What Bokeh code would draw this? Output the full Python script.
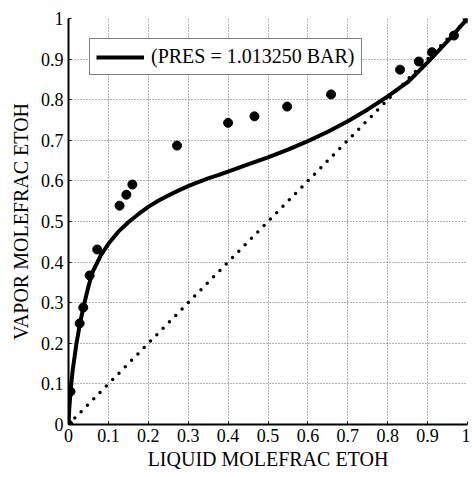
from bokeh.plotting import figure
from bokeh.models import FixedTicker, Legend, LegendItem, Range1d
from bokeh.embed import file_html
from bokeh.resources import INLINE

# experimental data (liquid x, vapor y)
x_exp = [0.0, 0.005, 0.028, 0.037, 0.053, 0.072, 0.128, 0.145, 0.160, 0.272,
         0.400, 0.466, 0.548, 0.658, 0.831, 0.878, 0.911, 0.966, 1.0]
y_exp = [0.0, 0.081, 0.249, 0.288, 0.367, 0.431, 0.539, 0.566, 0.591, 0.687,
         0.743, 0.759, 0.783, 0.813, 0.874, 0.894, 0.917, 0.958, 1.0]

# model curve
x_curve = [0.0, 0.002, 0.005, 0.01, 0.02, 0.03, 0.04, 0.05, 0.06, 0.08, 0.10,
           0.125, 0.15, 0.175, 0.2, 0.225, 0.25, 0.275, 0.3, 0.325, 0.35,
           0.375, 0.4, 0.45, 0.5, 0.55, 0.6, 0.65, 0.7, 0.75, 0.8, 0.85,
           0.9, 0.95, 1.0]
y_curve = [0.0, 0.04, 0.08, 0.13, 0.20, 0.255, 0.30, 0.34, 0.375, 0.415, 0.445,
           0.475, 0.498, 0.518, 0.536, 0.551, 0.564, 0.576, 0.587, 0.597, 0.606,
           0.614, 0.623, 0.641, 0.658, 0.677, 0.698, 0.721, 0.747, 0.776, 0.808,
           0.843, 0.892, 0.944, 1.0]

# diagonal y = x
x_diag = [0.0, 1.0]
y_diag = [0.0, 1.0]

ticks = [0, 0.1, 0.2, 0.3, 0.4, 0.5, 0.6, 0.7, 0.8, 0.9, 1.0]
tick_labels = ["0", "0.1", "0.2", "0.3", "0.4", "0.5", "0.6", "0.7", "0.8", "0.9", "1"]

SERIF = "Liberation Serif"

p = figure(width=470, height=477, output_backend="svg", toolbar_location=None,
           x_range=Range1d(0, 1), y_range=Range1d(0, 1),
           min_border_left=68, min_border_right=3, min_border_top=18,
           min_border_bottom=53)
p.outline_line_color = None
p.background_fill_color = "white"
p.border_fill_color = "white"

overrides = {t: l for t, l in zip(ticks, tick_labels)}
for ax in (p.xaxis[0], p.yaxis[0]):
    ax.ticker = FixedTicker(ticks=ticks)
    ax.major_label_overrides = overrides
    ax.major_label_text_font = SERIF
    ax.major_label_text_font_size = "18px"
    ax.major_label_text_color = "black"
    ax.axis_label_text_font = SERIF
    ax.axis_label_text_font_size = "20px"
    ax.axis_label_text_font_style = "normal"
    ax.axis_label_text_color = "black"
    ax.axis_line_width = 2
    ax.axis_line_color = "black"
    ax.major_tick_in = 3
    ax.major_tick_out = 0
    ax.minor_tick_line_color = None

p.xaxis.major_label_standoff = 4
p.yaxis.major_label_standoff = 5
p.xaxis.axis_label_standoff = 3
p.yaxis.axis_label_standoff = 6

for g in (p.xgrid[0], p.ygrid[0]):
    g.grid_line_color = "#666666"
    g.grid_line_dash = "1 2"
    g.grid_line_width = 1

# diagonal dotted line
p.line(x_diag, y_diag, line_color="black", line_width=3.5,
       line_dash="0 9", line_cap="round")

# model curve
curve = p.line(x_curve, y_curve, line_color="black", line_width=4,
               line_join="round")

# experimental points
p.scatter(x_exp, y_exp, size=9, fill_color="black", line_color="black")

legend = Legend(items=[LegendItem(label="(PRES = 1.013250 BAR)", renderers=[curve])],
                location=(21, 349))
legend.label_text_font = SERIF
legend.label_text_font_size = "20px"
legend.label_text_color = "black"
legend.glyph_width = 48
legend.glyph_height = 22
legend.label_standoff = 7
legend.padding = 6
legend.margin = 0
legend.border_line_color = "black"
legend.border_line_width = 1
legend.background_fill_alpha = 1
p.add_layout(legend)

p.xaxis.axis_label = "LIQUID MOLEFRAC ETOH"
p.yaxis.axis_label = "VAPOR MOLEFRAC ETOH"

open("out.html", "w").write(file_html(p, INLINE))
